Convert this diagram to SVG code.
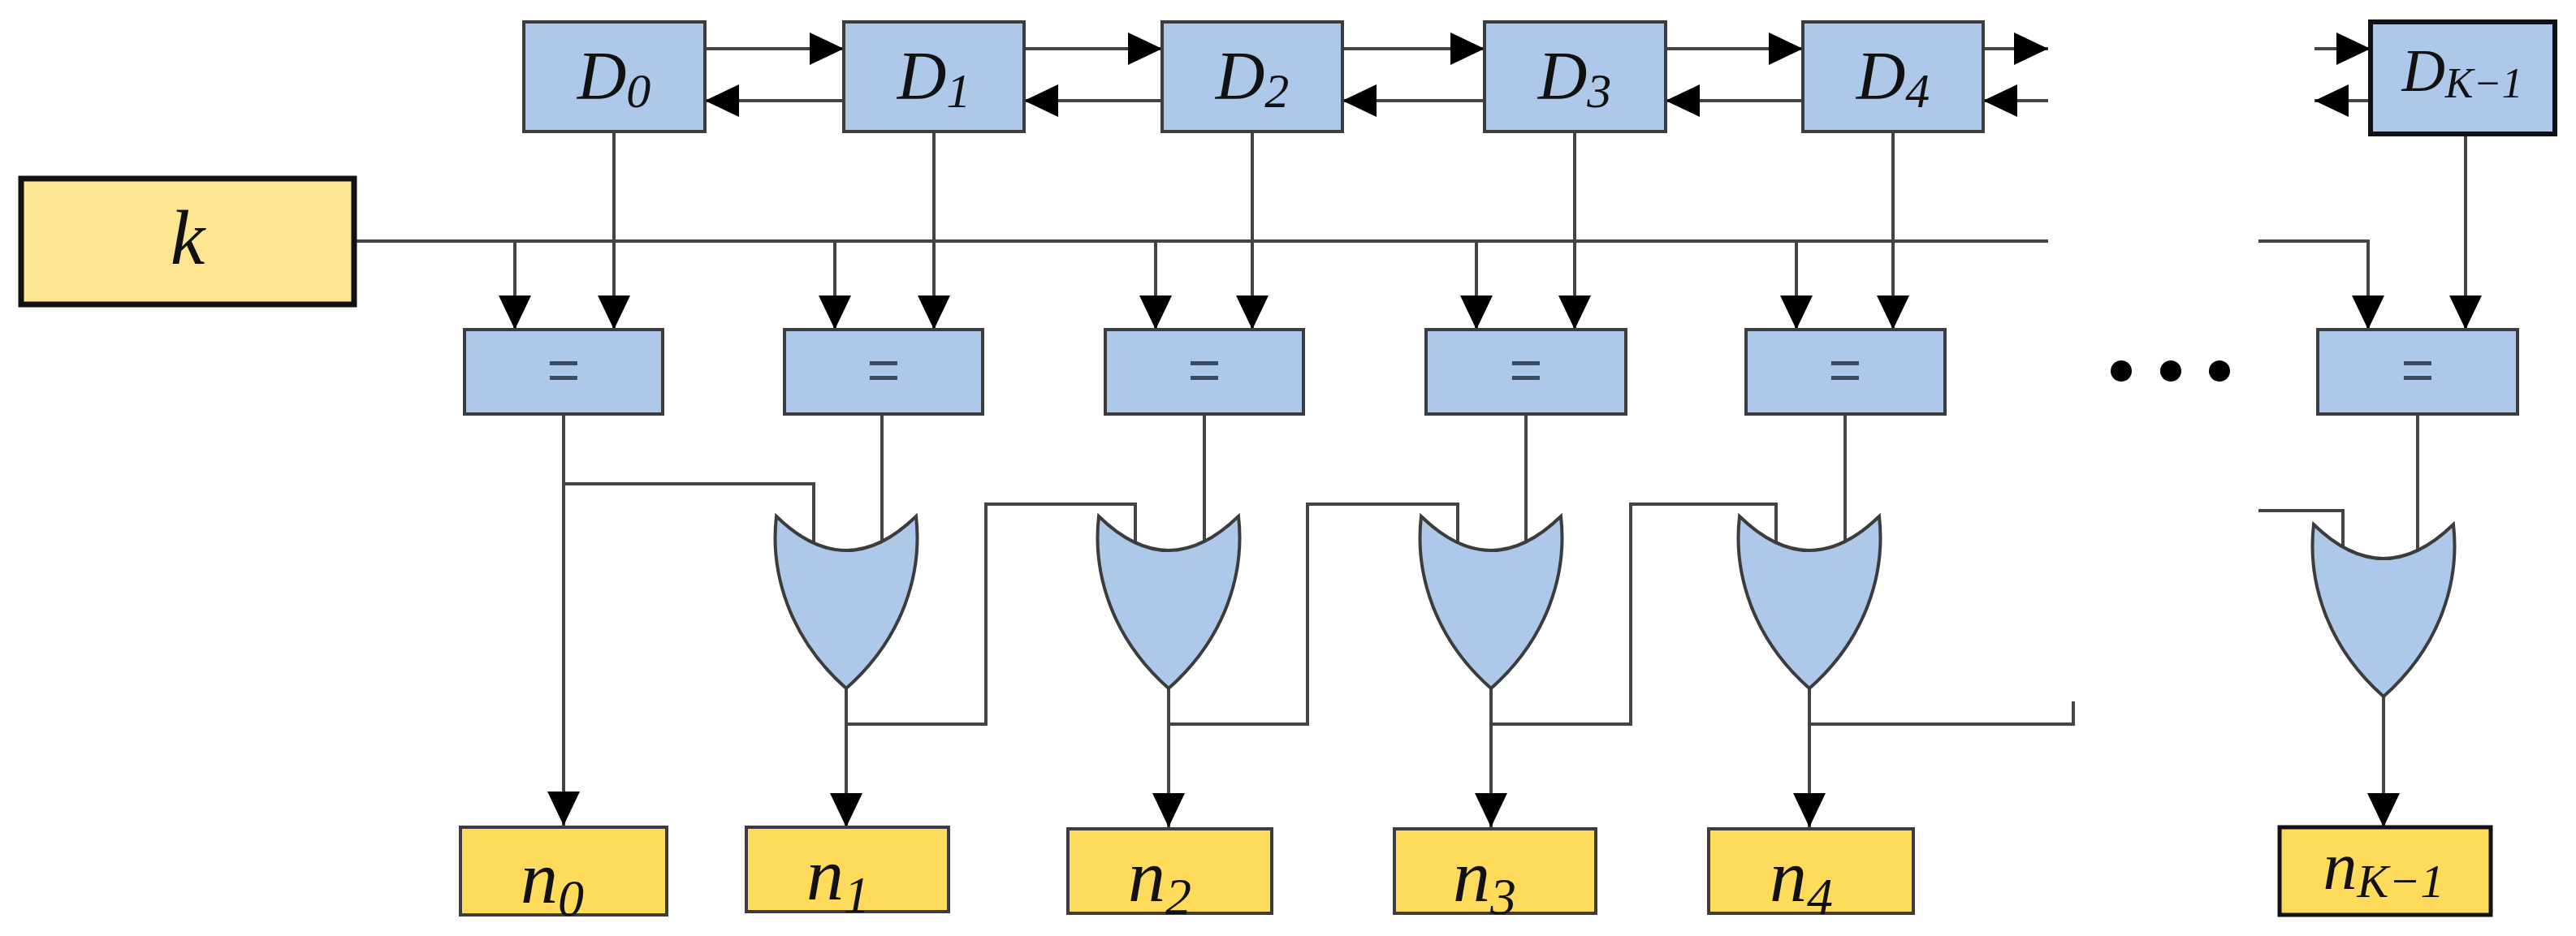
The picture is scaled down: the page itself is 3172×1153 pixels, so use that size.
<svg xmlns="http://www.w3.org/2000/svg" width="3172" height="1153" viewBox="0 0 3172 1153">
<style>
.blue{fill:#aec8e9;stroke:#3c3c3c;stroke-width:4}
.yel{fill:#ffdb5c;stroke:#3c3c3c;stroke-width:4}
.kbox{fill:#fee592;stroke:#111;stroke-width:7}
.ln{fill:none;stroke:#444;stroke-width:4}
.lbl{font-family:"Liberation Serif",serif;font-style:italic;fill:#111}
.eq{font-family:"Liberation Sans",sans-serif;font-size:70px;fill:#3b4a5e;text-anchor:middle}
</style>
<defs>
<marker id="ah" markerUnits="userSpaceOnUse" markerWidth="44" markerHeight="44" viewBox="0 0 44 44" refX="42" refY="22" orient="auto">
<path d="M0,2 L42,22 L0,42 Z" fill="#000"/>
</marker>
<path id="gate" d="M-86,0 Q0,84 86,0 C94,70 70,150 0,212 C-70,150 -94,70 -86,0 Z" class="blue"/>
</defs>

<g id="connectors">
<!-- D chain arrows -->
<line class="ln" x1="868" y1="60" x2="1039" y2="60" marker-end="url(#ah)"/>
<line class="ln" x1="1039" y1="124" x2="868" y2="124" marker-end="url(#ah)"/>
<line class="ln" x1="1261" y1="60" x2="1431" y2="60" marker-end="url(#ah)"/>
<line class="ln" x1="1431" y1="124" x2="1261" y2="124" marker-end="url(#ah)"/>
<line class="ln" x1="1653" y1="60" x2="1828" y2="60" marker-end="url(#ah)"/>
<line class="ln" x1="1828" y1="124" x2="1653" y2="124" marker-end="url(#ah)"/>
<line class="ln" x1="2051" y1="60" x2="2220" y2="60" marker-end="url(#ah)"/>
<line class="ln" x1="2220" y1="124" x2="2051" y2="124" marker-end="url(#ah)"/>
<line class="ln" x1="2442" y1="60" x2="2522" y2="60" marker-end="url(#ah)"/>
<line class="ln" x1="2522" y1="124" x2="2442" y2="124" marker-end="url(#ah)"/>
<line class="ln" x1="2850" y1="60" x2="2919" y2="60" marker-end="url(#ah)"/>
<line class="ln" x1="2919" y1="124" x2="2850" y2="124" marker-end="url(#ah)"/>
<!-- k bus -->
<line class="ln" x1="436" y1="297" x2="2522" y2="297"/>
<polyline class="ln" points="2781,297 2916,297 2916,406" marker-end="url(#ah)"/>
<!-- k taps -->
<line class="ln" x1="634" y1="297" x2="634" y2="406" marker-end="url(#ah)"/>
<line class="ln" x1="1028" y1="297" x2="1028" y2="406" marker-end="url(#ah)"/>
<line class="ln" x1="1423" y1="297" x2="1423" y2="406" marker-end="url(#ah)"/>
<line class="ln" x1="1818" y1="297" x2="1818" y2="406" marker-end="url(#ah)"/>
<line class="ln" x1="2212" y1="297" x2="2212" y2="406" marker-end="url(#ah)"/>
<!-- D down -->
<line class="ln" x1="756" y1="162" x2="756" y2="406" marker-end="url(#ah)"/>
<line class="ln" x1="1150" y1="162" x2="1150" y2="406" marker-end="url(#ah)"/>
<line class="ln" x1="1542" y1="162" x2="1542" y2="406" marker-end="url(#ah)"/>
<line class="ln" x1="1939" y1="162" x2="1939" y2="406" marker-end="url(#ah)"/>
<line class="ln" x1="2331" y1="162" x2="2331" y2="406" marker-end="url(#ah)"/>
<line class="ln" x1="3036" y1="165" x2="3036" y2="406" marker-end="url(#ah)"/>
<!-- eq outputs -->
<line class="ln" x1="694" y1="510" x2="694" y2="1017" marker-end="url(#ah)"/>
<polyline class="ln" points="694,596 1002,596 1002,672"/>
<line class="ln" x1="1086" y1="510" x2="1086" y2="672"/>
<line class="ln" x1="1483" y1="510" x2="1483" y2="672"/>
<line class="ln" x1="1879" y1="510" x2="1879" y2="672"/>
<line class="ln" x1="2272" y1="510" x2="2272" y2="672"/>
<line class="ln" x1="2977" y1="510" x2="2977" y2="682"/>
<!-- gate outputs -->
<line class="ln" x1="1042" y1="848" x2="1042" y2="1019" marker-end="url(#ah)"/>
<line class="ln" x1="1439" y1="848" x2="1439" y2="1019" marker-end="url(#ah)"/>
<line class="ln" x1="1836" y1="848" x2="1836" y2="1019" marker-end="url(#ah)"/>
<line class="ln" x1="2228" y1="848" x2="2228" y2="1019" marker-end="url(#ah)"/>
<line class="ln" x1="2935" y1="858" x2="2935" y2="1019" marker-end="url(#ah)"/>
<!-- carry chain -->
<polyline class="ln" points="1042,892 1214,892 1214,621 1398,621 1398,672"/>
<polyline class="ln" points="1439,892 1610,892 1610,621 1795,621 1795,672"/>
<polyline class="ln" points="1836,892 2008,892 2008,621 2187,621 2187,672"/>
<polyline class="ln" points="2228,892 2553,892 2553,864"/>
<polyline class="ln" points="2781,629 2885,629 2885,682"/>
</g>

<g id="k"><rect class="kbox" x="26" y="220" width="410" height="155"/><text class="lbl" x="231" y="325" font-size="96" text-anchor="middle">k</text></g>

<g id="D0"><rect class="blue" x="645" y="27" width="223" height="135"/><text class="lbl" x="756" y="122" font-size="84" text-anchor="middle">D<tspan font-size="60" dy="10">0</tspan></text></g>
<g id="D1"><rect class="blue" x="1039" y="27" width="222" height="135"/><text class="lbl" x="1150" y="122" font-size="84" text-anchor="middle">D<tspan font-size="60" dy="10">1</tspan></text></g>
<g id="D2"><rect class="blue" x="1431" y="27" width="222" height="135"/><text class="lbl" x="1542" y="122" font-size="84" text-anchor="middle">D<tspan font-size="60" dy="10">2</tspan></text></g>
<g id="D3"><rect class="blue" x="1828" y="27" width="223" height="135"/><text class="lbl" x="1939" y="122" font-size="84" text-anchor="middle">D<tspan font-size="60" dy="10">3</tspan></text></g>
<g id="D4"><rect class="blue" x="2220" y="27" width="222" height="135"/><text class="lbl" x="2331" y="122" font-size="84" text-anchor="middle">D<tspan font-size="60" dy="10">4</tspan></text></g>
<g id="DK"><rect class="blue" x="2919" y="27" width="227" height="138" style="stroke:#111;stroke-width:6"/><text class="lbl" x="3032" y="112" font-size="74" text-anchor="middle">D<tspan font-size="52" dy="8">K−1</tspan></text></g>

<g id="eq0"><rect class="blue" x="572" y="406" width="244" height="104"/><text class="eq" x="694" y="480">=</text></g>
<g id="eq1"><rect class="blue" x="966" y="406" width="244" height="104"/><text class="eq" x="1088" y="480">=</text></g>
<g id="eq2"><rect class="blue" x="1361" y="406" width="244" height="104"/><text class="eq" x="1483" y="480">=</text></g>
<g id="eq3"><rect class="blue" x="1756" y="406" width="246" height="104"/><text class="eq" x="1879" y="480">=</text></g>
<g id="eq4"><rect class="blue" x="2150" y="406" width="245" height="104"/><text class="eq" x="2272" y="480">=</text></g>
<g id="eqK"><rect class="blue" x="2854" y="406" width="246" height="104"/><text class="eq" x="2977" y="480">=</text></g>

<g id="or1"><use href="#gate" x="1042" y="636"/></g>
<g id="or2"><use href="#gate" x="1439" y="636"/></g>
<g id="or3"><use href="#gate" x="1836" y="636"/></g>
<g id="or4"><use href="#gate" x="2228" y="636"/></g>
<g id="orK"><use href="#gate" x="2935" y="646"/></g>

<g id="dots" fill="#000"><circle cx="2612" cy="457" r="13"/><circle cx="2673" cy="457" r="13"/><circle cx="2733" cy="457" r="13"/></g>

<g id="n0"><rect class="yel" x="567" y="1019" width="254" height="108"/><text class="lbl" x="680" y="1112" font-size="92" text-anchor="middle">n<tspan font-size="64" dy="16">0</tspan></text></g>
<g id="n1"><rect class="yel" x="919" y="1019" width="249" height="104"/><text class="lbl" x="1032" y="1108" font-size="92" text-anchor="middle">n<tspan font-size="64" dy="16">1</tspan></text></g>
<g id="n2"><rect class="yel" x="1315" y="1021" width="251" height="104"/><text class="lbl" x="1428" y="1110" font-size="92" text-anchor="middle">n<tspan font-size="64" dy="16">2</tspan></text></g>
<g id="n3"><rect class="yel" x="1717" y="1021" width="248" height="104"/><text class="lbl" x="1828" y="1110" font-size="92" text-anchor="middle">n<tspan font-size="64" dy="16">3</tspan></text></g>
<g id="n4"><rect class="yel" x="2104" y="1021" width="252" height="104"/><text class="lbl" x="2218" y="1110" font-size="92" text-anchor="middle">n<tspan font-size="64" dy="16">4</tspan></text></g>
<g id="nK"><rect class="yel" x="2807" y="1019" width="260" height="108" style="stroke:#111;stroke-width:5"/><text class="lbl" x="2935" y="1095" font-size="84" text-anchor="middle">n<tspan font-size="58" dy="10">K−1</tspan></text></g>
</svg>
